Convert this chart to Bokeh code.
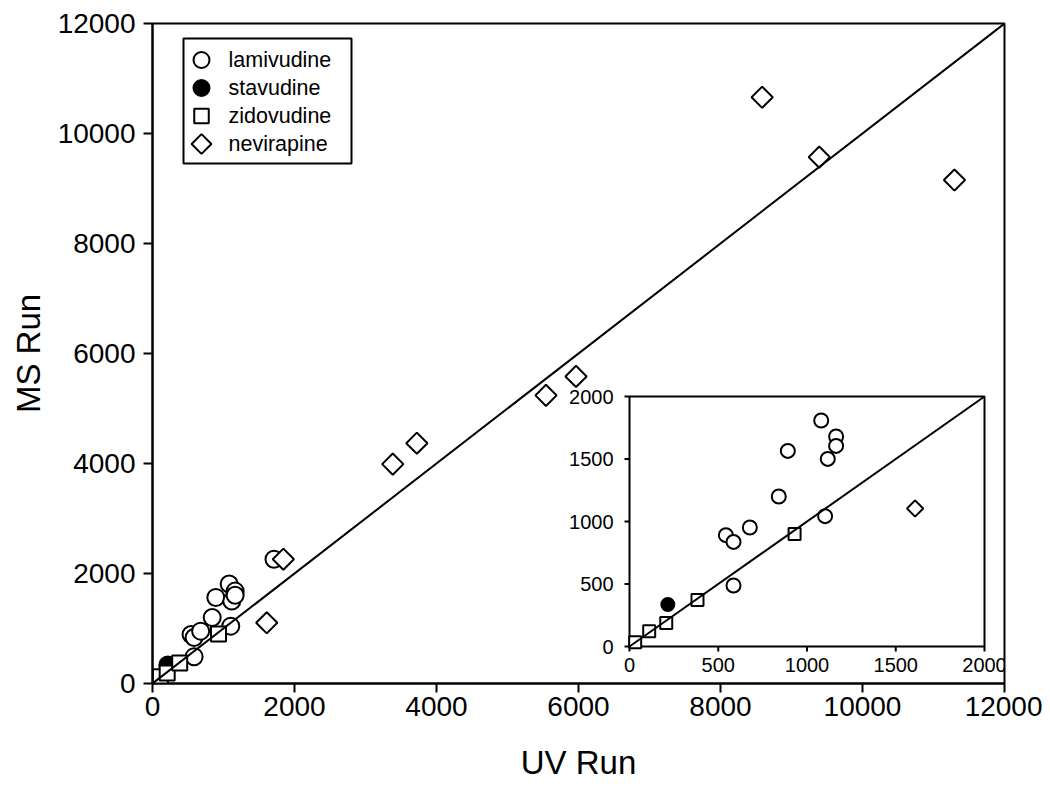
import numpy as np
from bokeh.plotting import figure
from bokeh.models import Range1d, FixedTicker
from bokeh.core.properties import value
from bokeh.embed import file_html
from bokeh.resources import INLINE

# ---------------- data ----------------
series_names = ["lamivudine", "stavudine", "zidovudine", "nevirapine"]
lamivudine_uv = [543, 586, 586, 678, 841, 892, 1080, 1102, 1117, 1164, 1164, 1711]
lamivudine_ms = [891, 837, 488, 952, 1200, 1565, 1808, 1043, 1501, 1680, 1605, 2260]
stavudine_uv = [216]
stavudine_ms = [336]
zidovudine_uv = [32, 111, 207, 383, 930]
zidovudine_ms = [35, 123, 189, 373, 901]
nevirapine_uv = [1609, 1843, 3384, 3723, 5542, 5965, 8587, 9391, 11295]
nevirapine_ms = [1104, 2260, 3988, 4369, 5239, 5583, 10659, 9571, 9154]
main_ticks = [0, 2000, 4000, 6000, 8000, 10000, 12000]
inset_ticks = [0, 500, 1000, 1500, 2000]
x_label = "UV Run"
y_label = "MS Run"

series_uv = [lamivudine_uv, stavudine_uv, zidovudine_uv, nevirapine_uv]
series_ms = [lamivudine_ms, stavudine_ms, zidovudine_ms, nevirapine_ms]

# ---------------- styles / layout ----------------
FONT = "Liberation Sans"
W, H = 1042, 786
FL, FT, FW, FH = 152, 23, 852, 660          # frame placement (px)
IN_L, IN_B, IN_W, IN_H = 477, 37, 355, 250  # inset box inside frame (px)

styles = [
    dict(marker="circle", fill="white", size=17, isize=14, angle=0.0),
    dict(marker="circle", fill="black", size=17, isize=13, angle=0.0),
    dict(marker="square", fill="white", size=15, isize=12, angle=0.0),
    dict(marker="square", fill="white", size=15, isize=11.5, angle=np.pi / 4),
]
leg_sizes = [16, 16, 14.5, 14]

imax = inset_ticks[-1]
sx = imax / IN_W
sy = imax / IN_H

p = figure(width=W, height=H,
           x_range=Range1d(main_ticks[0], main_ticks[-1]),
           y_range=Range1d(main_ticks[0], main_ticks[-1]),
           output_backend="svg", toolbar_location=None,
           min_border_left=FL, min_border_right=W - FL - FW,
           min_border_top=FT, min_border_bottom=H - FT - FH)
p.extra_x_ranges = {"ix": Range1d(-IN_L * sx, (FW - IN_L) * sx), "lx": Range1d(0, FW)}
p.extra_y_ranges = {"iy": Range1d(-IN_B * sy, (FH - IN_B) * sy), "ly": Range1d(FH, 0)}

p.grid.visible = False
p.background_fill_color = "white"
p.border_fill_color = "white"
p.outline_line_color = "black"
p.outline_line_width = 2
p.outline_line_alpha = 1.0

for ax in (p.xaxis[0], p.yaxis[0]):
    ax.ticker = FixedTicker(ticks=main_ticks)
    ax.minor_tick_line_color = None
    ax.major_tick_in = 0
    ax.major_tick_out = 9
    ax.major_tick_line_width = 2
    ax.axis_line_width = 2
    ax.major_label_text_font = FONT
    ax.major_label_text_font_size = "28px"
    ax.major_label_text_color = "black"
    ax.axis_label_text_font = FONT
    ax.axis_label_text_font_size = "33px"
    ax.axis_label_text_font_style = "normal"
    ax.axis_label_text_color = "black"
p.xaxis.axis_label = x_label
p.yaxis.axis_label = y_label
p.xaxis.major_label_standoff = 4
p.yaxis.major_label_standoff = 8
p.xaxis.axis_label_standoff = 25
p.yaxis.axis_label_standoff = 8

# ---------------- main plot ----------------
for uv, ms, st in zip(series_uv, series_ms, styles):
    p.scatter(x=uv, y=ms, marker=st["marker"], size=st["size"], angle=st["angle"],
              fill_color=st["fill"], line_color="black", line_width=2)
p.line(x=[main_ticks[0], main_ticks[-1]], y=[main_ticks[0], main_ticks[-1]],
       line_color="black", line_width=2)

# ---------------- inset ----------------
R = dict(x_range_name="ix", y_range_name="iy")
p.quad(left=inset_ticks[0], right=imax, bottom=inset_ticks[0], top=imax,
       fill_color="white", line_color="black", line_width=2, **R)
for uv, ms, st in zip(series_uv, series_ms, styles):
    uv_a, ms_a = np.array(uv), np.array(ms)
    m = (uv_a <= imax) & (ms_a <= imax)
    if m.any():
        p.scatter(x=uv_a[m], y=ms_a[m], marker=st["marker"], size=st["isize"],
                  angle=st["angle"], fill_color=st["fill"], line_color="black",
                  line_width=2, **R)
p.line(x=[0, imax], y=[0, imax], line_color="black", line_width=2, **R)
zeros = [0] * len(inset_ticks)
p.ray(x=zeros, y=inset_ticks, length=5, length_units="screen", angle=np.pi,
      line_color="black", line_width=2, **R)
p.ray(x=inset_ticks, y=zeros, length=5, length_units="screen", angle=-np.pi / 2,
      line_color="black", line_width=2, **R)
p.text(x=zeros, y=inset_ticks, text=[str(t) for t in inset_ticks], x_offset=-16,
       text_align="right", text_baseline="middle", text_font=value(FONT),
       text_font_size="20px", text_color="black", **R)
p.text(x=inset_ticks, y=zeros, text=[str(t) for t in inset_ticks], y_offset=11,
       text_align="center", text_baseline="top", text_font=value(FONT),
       text_font_size="20px", text_color="black", **R)

# ---------------- legend ----------------
L = dict(x_range_name="lx", y_range_name="ly")
p.quad(left=31, right=199, top=15, bottom=140, fill_color="white",
       line_color="black", line_width=2, **L)
rows = [36.5 + 28 * i for i in range(len(series_names))]
for i, st in enumerate(styles):
    p.scatter(x=[49], y=[rows[i]], marker=st["marker"], size=leg_sizes[i],
              angle=st["angle"], fill_color=st["fill"], line_color="black",
              line_width=2, **L)
p.text(x=[76] * len(series_names), y=rows, text=series_names, text_align="left",
       text_baseline="middle", text_font=value(FONT), text_font_size="21.5px",
       text_color="black", **L)

open("out.html", "w").write(file_html(p, INLINE))
